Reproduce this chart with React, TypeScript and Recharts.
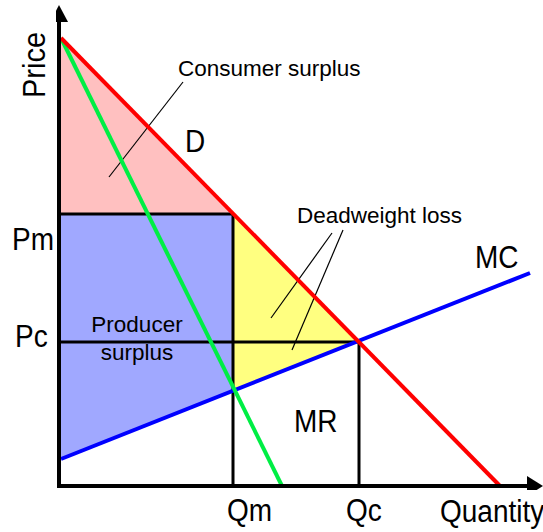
import React from "react";
import { ComposedChart, XAxis, YAxis, Area, Line, Scatter, ReferenceLine } from "recharts";

// chart units: 1 unit = 1px, origin where the axes meet
const qm = 172;
const qc = 298;
const pm = 272;
const pc = 144;
const mcAtQm = 95;

const demand = [
  { x: 0, y: 448 },
  { x: 439, y: 0 },
];
const marginalRevenue = [
  { x: 0, y: 448 },
  { x: 221, y: 0 },
];
const marginalCost = [
  { x: 0, y: 27 },
  { x: 469, y: 213 },
];

const consumerSurplus = [
  { x: 0, y: [pm, 448] },
  { x: qm, y: [pm, pm] },
];
const producerSurplus = [
  { x: 0, y: [27, pm] },
  { x: qm, y: [mcAtQm, pm] },
];
const deadweightLoss = [
  { x: qm, y: [mcAtQm, pm] },
  { x: qc, y: [pc, pc] },
];

const yArrow = [{ x: -2, y: 481 }];
const xArrow = [{ x: 482, y: 0 }];

// leader lines from the labels
const csPointer = [
  { x: 122, y: 404 },
  { x: 48, y: 309 },
];
const dwlPointerA = [
  { x: 271, y: 253 },
  { x: 210, y: 168 },
];
const dwlPointerB = [
  { x: 282, y: 256 },
  { x: 231, y: 136 },
];

const FONT = "'Liberation Sans', Arial, sans-serif";

const UpArrow = (props: any) => {
  const { cx, cy } = props;
  return <polygon points={`${cx},${cy} ${cx - 9},${cy + 17} ${cx + 9},${cy + 17}`} fill="#000" />;
};
const RightArrow = (props: any) => {
  const { cx, cy } = props;
  return <polygon points={`${cx},${cy} ${cx - 16},${cy - 10} ${cx - 16},${cy + 10}`} fill="#000" />;
};

// the reference's big labels are a little taller than wide
const BigText = ({ x, y, children }: { x: number; y: number; children: React.ReactNode }) => (
  <text x={x} y={y} fontSize={28} transform={`translate(0 ${y}) scale(1 1.1) translate(0 ${-y})`}>
    {children}
  </text>
);

export default function App() {
  const small = 22.5;
  return (
    <div style={{ position: "absolute", left: 0, top: 0, width: 543, height: 532, background: "#fff" }}>
      <ComposedChart width={543} height={532} margin={{ top: 4, right: 0, bottom: 42, left: 56 }}>
        <XAxis type="number" dataKey="x" domain={[-5, 482]} hide allowDataOverflow />
        <YAxis type="number" dataKey="y" domain={[-4, 482]} hide allowDataOverflow />

        <Area data={consumerSurplus} dataKey="y" type="linear" fill="#ffc0c0" fillOpacity={1} stroke="none" isAnimationActive={false} />
        <Area data={producerSurplus} dataKey="y" type="linear" fill="#a0a8ff" fillOpacity={1} stroke="none" isAnimationActive={false} />
        <Area data={deadweightLoss} dataKey="y" type="linear" fill="#ffff80" fillOpacity={1} stroke="none" isAnimationActive={false} />

        <ReferenceLine segment={[{ x: 0, y: pm }, { x: qm, y: pm }]} stroke="#000" strokeWidth={3} ifOverflow="visible" />
        <ReferenceLine segment={[{ x: qm, y: pm }, { x: qm, y: 0 }]} stroke="#000" strokeWidth={3} ifOverflow="visible" />
        <ReferenceLine segment={[{ x: 0, y: pc }, { x: qc, y: pc }]} stroke="#000" strokeWidth={3} ifOverflow="visible" />
        <ReferenceLine segment={[{ x: qc, y: pc }, { x: qc, y: 0 }]} stroke="#000" strokeWidth={3} ifOverflow="visible" />

        <ReferenceLine segment={csPointer} stroke="#000" strokeWidth={1.2} ifOverflow="visible" />
        <ReferenceLine segment={dwlPointerA} stroke="#000" strokeWidth={1.2} ifOverflow="visible" />
        <ReferenceLine segment={dwlPointerB} stroke="#000" strokeWidth={1.2} ifOverflow="visible" />

        <Line data={marginalCost} dataKey="y" type="linear" stroke="#0000ff" strokeWidth={4} dot={false} isAnimationActive={false} />
        <Line data={marginalRevenue} dataKey="y" type="linear" stroke="#00ee44" strokeWidth={4} dot={false} isAnimationActive={false} />
        <Line data={demand} dataKey="y" type="linear" stroke="#ff0000" strokeWidth={4} dot={false} isAnimationActive={false} />

        <ReferenceLine segment={[{ x: -2, y: -2 }, { x: -2, y: 468 }]} stroke="#000" strokeWidth={4} ifOverflow="visible" />
        <ReferenceLine segment={[{ x: -4, y: 0 }, { x: 470, y: 0 }]} stroke="#000" strokeWidth={4} ifOverflow="visible" />
        <Scatter data={yArrow} shape={UpArrow} isAnimationActive={false} />
        <Scatter data={xArrow} shape={RightArrow} isAnimationActive={false} />
      </ComposedChart>

      <svg width={543} height={532} style={{ position: "absolute", left: 0, top: 0, pointerEvents: "none" }} fontFamily={FONT} fill="#000">
        <text x={45} y={65} fontSize={29} textAnchor="middle" transform="translate(45 0) scale(1.1 1) translate(-45 0) rotate(-90, 45, 65)">Price</text>
        <text x={178} y={76} fontSize={small}>Consumer surplus</text>
        <BigText x={185} y={152}>D</BigText>
        <text x={297} y={223} fontSize={small}>Deadweight loss</text>
        <BigText x={475} y={268}>MC</BigText>
        <BigText x={12} y={250}>Pm</BigText>
        <BigText x={15} y={347}>Pc</BigText>
        <text x={137} y={332} fontSize={small} textAnchor="middle">Producer</text>
        <text x={137} y={360} fontSize={small} textAnchor="middle">surplus</text>
        <BigText x={294} y={432}>MR</BigText>
        <BigText x={227} y={521}>Qm</BigText>
        <BigText x={346} y={521}>Qc</BigText>
        <BigText x={440} y={522}>Quantity</BigText>
      </svg>
    </div>
  );
}
